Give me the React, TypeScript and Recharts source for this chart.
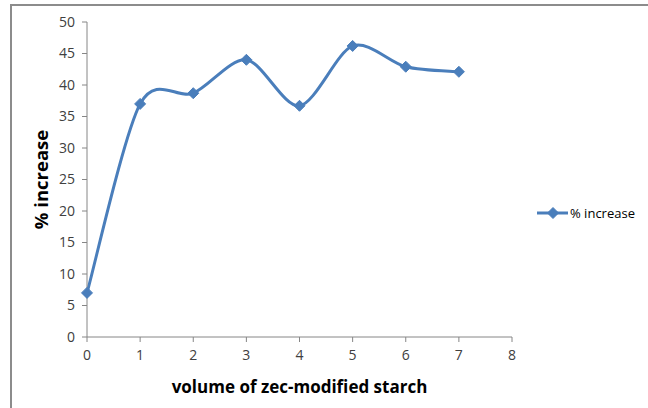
import React from 'react';
import { LineChart, Line, XAxis, YAxis, Label } from 'recharts';

const volumes = [0, 1, 2, 3, 4, 5, 6, 7];
const increase = [7.0, 37.0, 38.7, 44.0, 36.7, 46.2, 42.9, 42.1];
const xTicks = [0, 1, 2, 3, 4, 5, 6, 7, 8];
const yTicks = [0, 5, 10, 15, 20, 25, 30, 35, 40, 45, 50];
const seriesName = '% increase';

const data = volumes.map((v, i) => ({ volume: v, increase: increase[i] }));

const LINE_COLOR = '#4A7EBB';
const AXIS_COLOR = '#868686';
const TEXT_COLOR = '#404040';
const FONT = '"Open Sans", "Noto Sans", sans-serif';

// Smooth curve through every point (cardinal-style cubic Béziers)
const SMOOTH = 0.15;
const smoothCurve: any = (context: any) => {
  let pts: [number, number][] = [];
  return {
    areaStart() {},
    areaEnd() {},
    lineStart() {
      pts = [];
    },
    point(x: number, y: number) {
      pts.push([+x, +y]);
    },
    lineEnd() {
      const n = pts.length;
      if (!n) return;
      context.moveTo(pts[0][0], pts[0][1]);
      for (let i = 0; i < n - 1; i++) {
        const p0 = pts[i - 1] || pts[i];
        const p1 = pts[i];
        const p2 = pts[i + 1];
        const p3 = pts[i + 2] || p2;
        context.bezierCurveTo(
          p1[0] + (p2[0] - p0[0]) * SMOOTH,
          p1[1] + (p2[1] - p0[1]) * SMOOTH,
          p2[0] - (p3[0] - p1[0]) * SMOOTH,
          p2[1] - (p3[1] - p1[1]) * SMOOTH,
          p2[0],
          p2[1]
        );
      }
    },
  };
};

const Diamond = (props: any) => {
  const { cx, cy } = props;
  if (cx == null || cy == null) return null;
  const r = 5.5;
  return (
    <path
      d={`M${cx},${cy - r}L${cx + r},${cy}L${cx},${cy + r}L${cx - r},${cy}Z`}
      fill={LINE_COLOR}
      stroke={LINE_COLOR}
      strokeWidth={1}
    />
  );
};

export default function App() {
  return (
    <div
      style={{
        position: 'absolute',
        left: 0,
        top: 0,
        width: 648,
        height: 408,
        background: '#fff',
        overflow: 'hidden',
      }}
    >
      <div
        style={{
          position: 'absolute',
          left: 10,
          top: 4,
          width: 700,
          height: 500,
          borderTop: '2px solid #8c8c8c',
          borderLeft: '2px solid #8c8c8c',
        }}
      />
      <LineChart
        width={648}
        height={408}
        data={data}
        margin={{ top: 22, right: 136, bottom: 0, left: 0 }}
        style={{ position: 'absolute', left: 0, top: 0 }}
      >
        <XAxis
          dataKey="volume"
          type="number"
          domain={[0, 8]}
          ticks={xTicks}
          allowDecimals={false}
          height={71}
          stroke={AXIS_COLOR}
          tickSize={5}
          tickMargin={8}
          tick={{ fill: TEXT_COLOR, fontSize: 14, fontFamily: FONT }}
        >
          <Label
            content={({ viewBox }: any) => (
              <text
                x={viewBox.x + viewBox.width / 2}
                y={393}
                textAnchor="middle"
                fontFamily={FONT}
                fontWeight="bold"
                fontSize={17}
                fill="#000"
              >
                volume of zec-modified starch
              </text>
            )}
          />
        </XAxis>
        <YAxis
          type="number"
          domain={[0, 50]}
          ticks={yTicks}
          width={87}
          stroke={AXIS_COLOR}
          tickSize={5}
          tickMargin={7}
          tick={{ fill: TEXT_COLOR, fontSize: 14, fontFamily: FONT }}
        >
          <Label
            content={({ viewBox }: any) => {
              const cy = viewBox.y + viewBox.height / 2;
              return (
                <text
                  x={48}
                  y={cy}
                  transform={`rotate(-90 48 ${cy})`}
                  textAnchor="middle"
                  fontFamily={FONT}
                  fontWeight="bold"
                  fontSize={18.5}
                  fill="#000"
                >
                  {seriesName}
                </text>
              );
            }}
          />
        </YAxis>
        <Line
          dataKey="increase"
          name={seriesName}
          type={smoothCurve}
          stroke={LINE_COLOR}
          strokeWidth={3}
          dot={<Diamond />}
          activeDot={false}
          isAnimationActive={false}
        />
      </LineChart>
      {/* legend */}
      <svg
        width={120}
        height={20}
        style={{ position: 'absolute', left: 534, top: 203 }}
      >
        <line x1={3} y1={10} x2={34} y2={10} stroke={LINE_COLOR} strokeWidth={3} />
        <Diamond cx={19} cy={10} />
        <text x={36} y={15} fontFamily={FONT} fontSize={13} fill="#000">
          {seriesName}
        </text>
      </svg>
    </div>
  );
}
